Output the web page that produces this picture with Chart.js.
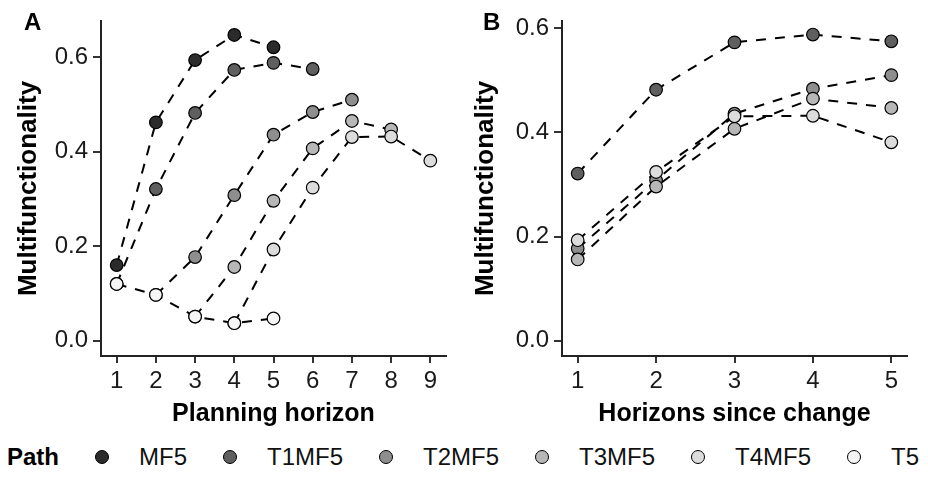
<!DOCTYPE html>
<html><head><meta charset="utf-8">
<script src="https://cdn.jsdelivr.net/npm/chart.js@4.4.1/dist/chart.umd.min.js"></script>
<style>
html,body{margin:0;padding:0;background:#fff;}
body{width:928px;height:480px;position:relative;overflow:hidden;font-family:"Liberation Sans",Arial,sans-serif;}
#ca{position:absolute;left:0;top:0;}
#cb{position:absolute;left:464px;top:0;}
.tag{position:absolute;font-weight:bold;font-size:24px;line-height:24px;color:#000;}
#legend{position:absolute;left:7px;top:443px;height:28px;display:flex;align-items:center;font-size:24px;color:#111;white-space:nowrap;}
#legend .ttl{font-weight:bold;color:#000;}
#legend .dot{width:12px;height:12px;border-radius:50%;border:1px solid #000;margin-left:36px;margin-right:30px;flex:none;}
</style></head>
<body>
<canvas id="ca" width="464" height="430"></canvas>
<canvas id="cb" width="464" height="430"></canvas>
<div class="tag" style="left:24px;top:10px">A</div>
<div class="tag" style="left:483px;top:10px">B</div>
<div id="legend"></div>
<script>
// ---- data ----
const pathNames = ['MF5', 'T1MF5', 'T2MF5', 'T3MF5', 'T4MF5', 'T5'];
const pathColors = ['#2b2b2b', '#5f5f5f', '#8e8e8e', '#b7b7b7', '#dcdcdc', '#f5f5f5'];
const horizonTicks = [1, 2, 3, 4, 5, 6, 7, 8, 9];
const sinceTicks = [1, 2, 3, 4, 5];
const yTicks = [0, 0.2, 0.4, 0.6];
// first planning horizon of each path (panel A)
const pathStart = [1, 1, 2, 3, 4, 1];
// multifunctionality by planning horizon (panel A)
const mf5   = [0.160, 0.462, 0.594, 0.647, 0.621];          // horizons 1-5
const t1mf5 = [0.120, 0.321, 0.482, 0.573, 0.588, 0.575];   // horizons 1-6
const t2mf5 = [0.097, 0.177, 0.308, 0.436, 0.484, 0.510];   // horizons 2-7
const t3mf5 = [0.051, 0.156, 0.296, 0.407, 0.465, 0.447];   // horizons 3-8
const t4mf5 = [0.037, 0.193, 0.324, 0.431, 0.432, 0.381];   // horizons 4-9
const t5    = [0.120, 0.097, 0.051, 0.037, 0.047];          // horizons 1-5
const pathValues = [mf5, t1mf5, t2mf5, t3mf5, t4mf5, t5];
// panel B shows paths with a change (T1MF5..T4MF5), horizons since change 1-5
const changedPaths = [1, 2, 3, 4];

// ---- helpers ----
const FAM = '"Liberation Sans", Arial, sans-serif';
function mkDatasets(series) {
  const ds = [];
  series.forEach(s => {
    ds.push({data: s.pts, showLine: true, borderColor: '#000', borderWidth: 2,
      borderDash: [10, 9], pointRadius: 0, pointHoverRadius: 0, order: 100, tension: 0, fill: false});
  });
  series.forEach(s => {
    ds.push({data: s.pts, showLine: false, pointRadius: 6.3, pointHoverRadius: 6.3,
      pointBackgroundColor: s.color, pointBorderColor: '#000', pointBorderWidth: 1.2,
      order: 10 - s.idx});
  });
  return ds;
}
function xScale(min, max, ticks, title) {
  return {
    type: 'linear', min, max,
    afterBuildTicks: s => { s.ticks = ticks.map(v => ({value: v})); },
    afterFit: s => { s.height = 74; },
    border: {display: true, color: '#222', width: 2},
    grid: {display: true, drawOnChartArea: false, drawTicks: true, tickLength: 7, color: '#333', lineWidth: 2},
    ticks: {color: '#1a1a1a', font: {family: FAM, size: 24}, padding: 4, maxRotation: 0,
      callback: v => String(v)},
    title: {display: true, text: title, color: '#000', font: {family: FAM, size: 25, weight: 'bold'},
      padding: {top: 0, bottom: 1}}
  };
}
function yScale(min, max, width) {
  return {
    type: 'linear', min, max,
    afterBuildTicks: s => { s.ticks = yTicks.map(v => ({value: v})); },
    afterFit: s => { s.width = width; },
    border: {display: true, color: '#222', width: 2},
    grid: {display: true, drawOnChartArea: false, drawTicks: true, tickLength: 8, color: '#333', lineWidth: 2},
    ticks: {color: '#1a1a1a', font: {family: FAM, size: 24}, padding: 5, callback: v => v.toFixed(1)},
    title: {display: true, text: 'Multifunctionality', color: '#000', font: {family: FAM, size: 26, weight: 'bold'},
      padding: {top: 0, bottom: 0}}
  };
}
function baseOpts(pad, xs, ys) {
  return {
    responsive: false, animation: false, devicePixelRatio: 1,
    layout: {padding: pad},
    plugins: {legend: {display: false}, tooltip: {enabled: false}},
    scales: {x: xs, y: ys}
  };
}

// ---- panel A ----
const seriesA = pathNames.map((n, i) => ({
  idx: i, color: pathColors[i],
  pts: pathValues[i].map((v, k) => ({x: pathStart[i] + k, y: v}))
}));
new Chart(document.getElementById('ca'), {
  type: 'scatter',
  data: {datasets: mkDatasets(seriesA)},
  options: baseOpts({left: 13, right: 18, top: 21, bottom: 0},
    xScale(0.6, 9.4, horizonTicks, 'Planning horizon'),
    yScale(-0.0324, 0.6766, 88))
});

// ---- panel B ----
const seriesB = changedPaths.map(i => ({
  idx: i, color: pathColors[i],
  pts: pathValues[i].slice(1).map((v, k) => ({x: sinceTicks[k], y: v}))
}));
new Chart(document.getElementById('cb'), {
  type: 'scatter',
  data: {datasets: mkDatasets(seriesB)},
  options: baseOpts({left: 6, right: 21, top: 21, bottom: 0},
    xScale(0.8, 5.2, sinceTicks, 'Horizons since change'),
    yScale(-0.0294, 0.614, 92))
});

// ---- legend ----
const lg = document.getElementById('legend');
const ttl = document.createElement('span'); ttl.className = 'ttl'; ttl.textContent = 'Path'; lg.appendChild(ttl);
pathNames.forEach((n, i) => {
  const d = document.createElement('span'); d.className = 'dot'; d.style.background = pathColors[i]; lg.appendChild(d);
  const t = document.createElement('span'); t.textContent = n; lg.appendChild(t);
});
</script>
</body></html>
